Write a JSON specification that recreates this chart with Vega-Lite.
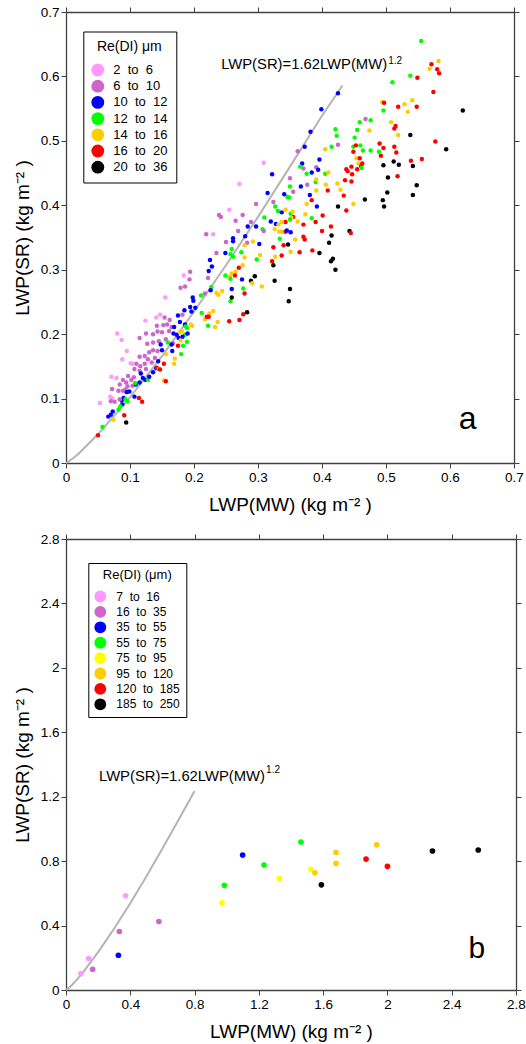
{
"$schema":"https://vega.github.io/schema/vega-lite/v6.json",
"background":"white",
"padding":{"left":13,"top":5,"right":5,"bottom":5},
"config":{"font":"Liberation Sans","view":{"stroke":null},
 "axis":{"grid":false,"domainColor":"#404040","domainWidth":1.3,"tickColor":"#404040","tickSize":5,"tickWidth":1,"labelFontSize":13.5,"labelColor":"black","labelPadding":2,"labelFlush":false,"labelOverlap":false,"titleFontSize":19,"titleFontWeight":"normal","titleColor":"black"}},
"spacing":17,
"datasets":{
"ptsA":[
{"x":0.155,"y":0.257,"re":"2 to 6"},{"x":0.198,"y":0.257,"re":"10 to 12"},{"x":0.199,"y":0.252,"re":"10 to 12"},{"x":0.211,"y":0.260,"re":"12 to 14"},{"x":0.217,"y":0.263,"re":"6 to 10"},{"x":0.238,"y":0.261,"re":"14 to 16"},{"x":0.235,"y":0.264,"re":"14 to 16"},{"x":0.185,"y":0.237,"re":"10 to 12"},{"x":0.194,"y":0.242,"re":"10 to 12"},{"x":0.202,"y":0.241,"re":"10 to 12"},{"x":0.196,"y":0.235,"re":"10 to 12"},{"x":0.230,"y":0.236,"re":"14 to 16"},{"x":0.141,"y":0.226,"re":"2 to 6"},{"x":0.147,"y":0.230,"re":"2 to 6"},{"x":0.154,"y":0.226,"re":"6 to 10"},{"x":0.162,"y":0.222,"re":"6 to 10"},{"x":0.175,"y":0.229,"re":"10 to 12"},{"x":0.182,"y":0.230,"re":"6 to 10"},{"x":0.212,"y":0.233,"re":"12 to 14"},{"x":0.224,"y":0.232,"re":"14 to 16"},{"x":0.217,"y":0.223,"re":"14 to 16"},{"x":0.220,"y":0.227,"re":"16 to 20"},{"x":0.223,"y":0.227,"re":"16 to 20"},{"x":0.222,"y":0.213,"re":"12 to 14"},{"x":0.233,"y":0.211,"re":"14 to 16"},{"x":0.237,"y":0.219,"re":"14 to 16"},{"x":0.124,"y":0.221,"re":"2 to 6"},{"x":0.142,"y":0.213,"re":"6 to 10"},{"x":0.152,"y":0.214,"re":"6 to 10"},{"x":0.158,"y":0.215,"re":"6 to 10"},{"x":0.165,"y":0.211,"re":"6 to 10"},{"x":0.178,"y":0.219,"re":"10 to 12"},{"x":0.186,"y":0.215,"re":"10 to 12"},{"x":0.187,"y":0.212,"re":"12 to 14"},{"x":0.195,"y":0.215,"re":"14 to 16"},{"x":0.197,"y":0.213,"re":"14 to 16"},{"x":0.189,"y":0.210,"re":"12 to 14"},{"x":0.169,"y":0.211,"re":"10 to 12"},
{"x":0.080,"y":0.201,"re":"2 to 6"},{"x":0.087,"y":0.191,"re":"2 to 6"},{"x":0.115,"y":0.194,"re":"6 to 10"},{"x":0.125,"y":0.201,"re":"6 to 10"},{"x":0.136,"y":0.200,"re":"6 to 10"},{"x":0.143,"y":0.204,"re":"6 to 10"},{"x":0.150,"y":0.203,"re":"6 to 10"},{"x":0.161,"y":0.205,"re":"6 to 10"},{"x":0.168,"y":0.201,"re":"10 to 12"},{"x":0.173,"y":0.199,"re":"10 to 12"},{"x":0.178,"y":0.203,"re":"14 to 16"},{"x":0.181,"y":0.205,"re":"14 to 16"},{"x":0.186,"y":0.199,"re":"12 to 14"},{"x":0.182,"y":0.196,"re":"10 to 12"},{"x":0.190,"y":0.201,"re":"10 to 12"},{"x":0.176,"y":0.194,"re":"10 to 12"},{"x":0.127,"y":0.185,"re":"6 to 10"},{"x":0.136,"y":0.187,"re":"6 to 10"},{"x":0.145,"y":0.189,"re":"6 to 10"},{"x":0.156,"y":0.192,"re":"6 to 10"},{"x":0.167,"y":0.186,"re":"6 to 10"},{"x":0.159,"y":0.187,"re":"12 to 14"},{"x":0.165,"y":0.184,"re":"10 to 12"},{"x":0.175,"y":0.182,"re":"16 to 20"},{"x":0.183,"y":0.182,"re":"12 to 14"},{"x":0.189,"y":0.188,"re":"12 to 14"},{"x":0.179,"y":0.190,"re":"14 to 16"},
{"x":0.095,"y":0.174,"re":"2 to 6"},{"x":0.136,"y":0.175,"re":"6 to 10"},{"x":0.143,"y":0.174,"re":"6 to 10"},{"x":0.130,"y":0.172,"re":"6 to 10"},{"x":0.115,"y":0.165,"re":"6 to 10"},{"x":0.123,"y":0.166,"re":"6 to 10"},{"x":0.128,"y":0.161,"re":"6 to 10"},{"x":0.148,"y":0.184,"re":"10 to 12"},{"x":0.150,"y":0.175,"re":"10 to 12"},{"x":0.166,"y":0.174,"re":"10 to 12"},{"x":0.156,"y":0.169,"re":"14 to 16"},{"x":0.180,"y":0.169,"re":"12 to 14"},{"x":0.170,"y":0.162,"re":"14 to 16"},{"x":0.088,"y":0.161,"re":"2 to 6"},{"x":0.101,"y":0.155,"re":"2 to 6"},{"x":0.104,"y":0.154,"re":"2 to 6"},{"x":0.110,"y":0.154,"re":"6 to 10"},{"x":0.116,"y":0.150,"re":"6 to 10"},{"x":0.123,"y":0.154,"re":"6 to 10"},{"x":0.134,"y":0.156,"re":"6 to 10"},{"x":0.144,"y":0.158,"re":"10 to 12"},{"x":0.153,"y":0.154,"re":"16 to 20"},{"x":0.169,"y":0.154,"re":"14 to 16"},{"x":0.139,"y":0.163,"re":"6 to 10"},{"x":0.107,"y":0.146,"re":"6 to 10"},{"x":0.115,"y":0.143,"re":"6 to 10"},{"x":0.125,"y":0.146,"re":"6 to 10"},{"x":0.136,"y":0.141,"re":"10 to 12"},{"x":0.141,"y":0.147,"re":"10 to 12"},{"x":0.142,"y":0.148,"re":"16 to 20"},{"x":0.145,"y":0.146,"re":"12 to 14"},{"x":0.147,"y":0.145,"re":"16 to 20"},{"x":0.117,"y":0.139,"re":"10 to 12"},
{"x":0.071,"y":0.134,"re":"2 to 6"},{"x":0.079,"y":0.132,"re":"2 to 6"},{"x":0.097,"y":0.135,"re":"6 to 10"},{"x":0.106,"y":0.133,"re":"6 to 10"},{"x":0.089,"y":0.129,"re":"6 to 10"},{"x":0.094,"y":0.125,"re":"6 to 10"},{"x":0.102,"y":0.129,"re":"6 to 10"},{"x":0.124,"y":0.129,"re":"10 to 12"},{"x":0.128,"y":0.129,"re":"12 to 14"},{"x":0.120,"y":0.132,"re":"10 to 12"},{"x":0.130,"y":0.134,"re":"10 to 12"},{"x":0.153,"y":0.128,"re":"14 to 16"},{"x":0.156,"y":0.127,"re":"16 to 20"},{"x":0.084,"y":0.122,"re":"6 to 10"},{"x":0.096,"y":0.119,"re":"6 to 10"},{"x":0.104,"y":0.120,"re":"6 to 10"},{"x":0.109,"y":0.122,"re":"10 to 12"},{"x":0.108,"y":0.124,"re":"12 to 14"},{"x":0.115,"y":0.125,"re":"10 to 12"},{"x":0.082,"y":0.112,"re":"6 to 10"},{"x":0.089,"y":0.112,"re":"6 to 10"},{"x":0.093,"y":0.114,"re":"6 to 10"},{"x":0.095,"y":0.110,"re":"10 to 12"},{"x":0.099,"y":0.111,"re":"10 to 12"},{"x":0.072,"y":0.115,"re":"6 to 10"},{"x":0.053,"y":0.093,"re":"2 to 6"},{"x":0.069,"y":0.103,"re":"2 to 6"},{"x":0.072,"y":0.100,"re":"2 to 6"},{"x":0.070,"y":0.096,"re":"6 to 10"},{"x":0.076,"y":0.095,"re":"6 to 10"},{"x":0.087,"y":0.097,"re":"10 to 12"},{"x":0.090,"y":0.101,"re":"10 to 12"},{"x":0.093,"y":0.099,"re":"12 to 14"},{"x":0.096,"y":0.096,"re":"12 to 14"},{"x":0.084,"y":0.099,"re":"6 to 10"},{"x":0.088,"y":0.091,"re":"10 to 12"},{"x":0.114,"y":0.101,"re":"16 to 20"},{"x":0.119,"y":0.095,"re":"16 to 20"},{"x":0.107,"y":0.103,"re":"10 to 12"},{"x":0.073,"y":0.080,"re":"10 to 12"},{"x":0.082,"y":0.083,"re":"12 to 14"},{"x":0.085,"y":0.088,"re":"12 to 14"},{"x":0.070,"y":0.075,"re":"10 to 12"},{"x":0.066,"y":0.072,"re":"10 to 12"},{"x":0.074,"y":0.067,"re":"14 to 16"},{"x":0.091,"y":0.074,"re":"16 to 20"},{"x":0.094,"y":0.063,"re":"20 to 36"},{"x":0.057,"y":0.056,"re":"12 to 14"},{"x":0.050,"y":0.043,"re":"16 to 20"},
{"x":0.257,"y":0.251,"re":"12 to 14"},{"x":0.255,"y":0.220,"re":"16 to 20"},{"x":0.271,"y":0.222,"re":"16 to 20"},{"x":0.277,"y":0.231,"re":"16 to 20"},{"x":0.283,"y":0.234,"re":"20 to 36"},{"x":0.279,"y":0.263,"re":"16 to 20"},{"x":0.259,"y":0.257,"re":"20 to 36"},
{"x":0.271,"y":0.433,"re":"2 to 6"},{"x":0.297,"y":0.402,"re":"6 to 10"},{"x":0.255,"y":0.393,"re":"2 to 6"},{"x":0.239,"y":0.385,"re":"6 to 10"},{"x":0.242,"y":0.382,"re":"6 to 10"},{"x":0.276,"y":0.385,"re":"6 to 10"},{"x":0.265,"y":0.376,"re":"6 to 10"},{"x":0.289,"y":0.374,"re":"6 to 10"},{"x":0.284,"y":0.367,"re":"10 to 12"},{"x":0.297,"y":0.367,"re":"10 to 12"},{"x":0.269,"y":0.360,"re":"6 to 10"},{"x":0.219,"y":0.355,"re":"6 to 10"},{"x":0.230,"y":0.355,"re":"2 to 6"},{"x":0.280,"y":0.352,"re":"10 to 12"},{"x":0.261,"y":0.349,"re":"10 to 12"},{"x":0.261,"y":0.344,"re":"10 to 12"},{"x":0.250,"y":0.343,"re":"6 to 10"},{"x":0.283,"y":0.342,"re":"6 to 10"},{"x":0.292,"y":0.344,"re":"14 to 16"},{"x":0.302,"y":0.340,"re":"10 to 12"},{"x":0.279,"y":0.338,"re":"14 to 16"},{"x":0.259,"y":0.332,"re":"12 to 14"},{"x":0.235,"y":0.326,"re":"6 to 10"},{"x":0.249,"y":0.326,"re":"10 to 12"},{"x":0.257,"y":0.324,"re":"12 to 14"},{"x":0.261,"y":0.320,"re":"12 to 14"},{"x":0.274,"y":0.327,"re":"12 to 14"},{"x":0.279,"y":0.319,"re":"14 to 16"},{"x":0.303,"y":0.323,"re":"14 to 16"},{"x":0.298,"y":0.316,"re":"12 to 14"},{"x":0.225,"y":0.315,"re":"10 to 12"},{"x":0.228,"y":0.305,"re":"10 to 12"},{"x":0.223,"y":0.298,"re":"10 to 12"},{"x":0.194,"y":0.297,"re":"6 to 10"},{"x":0.193,"y":0.285,"re":"6 to 10"},{"x":0.222,"y":0.287,"re":"6 to 10"},{"x":0.184,"y":0.291,"re":"2 to 6"},{"x":0.276,"y":0.307,"re":"14 to 16"},{"x":0.270,"y":0.303,"re":"16 to 20"},{"x":0.265,"y":0.297,"re":"14 to 16"},{"x":0.259,"y":0.294,"re":"14 to 16"},{"x":0.256,"y":0.289,"re":"14 to 16"},{"x":0.249,"y":0.291,"re":"12 to 14"},{"x":0.264,"y":0.291,"re":"16 to 20"},{"x":0.257,"y":0.286,"re":"12 to 14"},{"x":0.275,"y":0.285,"re":"10 to 12"},{"x":0.295,"y":0.290,"re":"20 to 36"},{"x":0.289,"y":0.283,"re":"20 to 36"},{"x":0.291,"y":0.279,"re":"14 to 16"},{"x":0.179,"y":0.272,"re":"6 to 10"},{"x":0.186,"y":0.274,"re":"6 to 10"},{"x":0.227,"y":0.273,"re":"12 to 14"},{"x":0.226,"y":0.268,"re":"10 to 12"},{"x":0.244,"y":0.267,"re":"14 to 16"},{"x":0.259,"y":0.270,"re":"10 to 12"},{"x":0.277,"y":0.271,"re":"12 to 14"},
{"x":0.382,"y":0.514,"re":"10 to 12"},{"x":0.421,"y":0.518,"re":"12 to 14"},{"x":0.423,"y":0.508,"re":"12 to 14"},{"x":0.474,"y":0.516,"re":"14 to 16"},{"x":0.455,"y":0.517,"re":"12 to 14"},{"x":0.513,"y":0.519,"re":"16 to 20"},{"x":0.515,"y":0.523,"re":"16 to 20"},{"x":0.519,"y":0.509,"re":"14 to 16"},{"x":0.538,"y":0.509,"re":"20 to 36"},{"x":0.577,"y":0.499,"re":"16 to 20"},{"x":0.451,"y":0.505,"re":"12 to 14"},{"x":0.373,"y":0.491,"re":"10 to 12"},{"x":0.362,"y":0.484,"re":"6 to 10"},{"x":0.425,"y":0.494,"re":"6 to 10"},{"x":0.415,"y":0.491,"re":"12 to 14"},{"x":0.405,"y":0.487,"re":"14 to 16"},{"x":0.449,"y":0.491,"re":"12 to 14"},{"x":0.453,"y":0.493,"re":"16 to 20"},{"x":0.460,"y":0.493,"re":"12 to 14"},{"x":0.464,"y":0.485,"re":"12 to 14"},{"x":0.476,"y":0.485,"re":"12 to 14"},{"x":0.449,"y":0.483,"re":"16 to 20"},{"x":0.490,"y":0.496,"re":"16 to 20"},{"x":0.496,"y":0.489,"re":"16 to 20"},{"x":0.489,"y":0.483,"re":"12 to 14"},{"x":0.492,"y":0.477,"re":"16 to 20"},{"x":0.513,"y":0.491,"re":"16 to 20"},{"x":0.516,"y":0.482,"re":"16 to 20"},
{"x":0.309,"y":0.466,"re":"2 to 6"},{"x":0.396,"y":0.471,"re":"10 to 12"},{"x":0.369,"y":0.465,"re":"10 to 12"},{"x":0.371,"y":0.457,"re":"6 to 10"},{"x":0.366,"y":0.460,"re":"12 to 14"},{"x":0.391,"y":0.459,"re":"6 to 10"},{"x":0.394,"y":0.455,"re":"10 to 12"},{"x":0.384,"y":0.451,"re":"10 to 12"},{"x":0.376,"y":0.449,"re":"12 to 14"},{"x":0.405,"y":0.449,"re":"12 to 14"},{"x":0.410,"y":0.451,"re":"14 to 16"},{"x":0.322,"y":0.448,"re":"10 to 12"},{"x":0.454,"y":0.473,"re":"14 to 16"},{"x":0.459,"y":0.473,"re":"16 to 20"},{"x":0.457,"y":0.465,"re":"14 to 16"},{"x":0.463,"y":0.465,"re":"16 to 20"},{"x":0.461,"y":0.461,"re":"16 to 20"},{"x":0.462,"y":0.458,"re":"12 to 14"},{"x":0.438,"y":0.456,"re":"16 to 20"},{"x":0.440,"y":0.453,"re":"16 to 20"},{"x":0.446,"y":0.460,"re":"16 to 20"},{"x":0.455,"y":0.456,"re":"16 to 20"},{"x":0.447,"y":0.448,"re":"16 to 20"},{"x":0.496,"y":0.462,"re":"20 to 36"},{"x":0.512,"y":0.468,"re":"20 to 36"},{"x":0.520,"y":0.463,"re":"20 to 36"},{"x":0.542,"y":0.461,"re":"20 to 36"},{"x":0.539,"y":0.469,"re":"16 to 20"},{"x":0.556,"y":0.472,"re":"16 to 20"},{"x":0.518,"y":0.445,"re":"16 to 20"},{"x":0.503,"y":0.443,"re":"20 to 36"},
{"x":0.350,"y":0.442,"re":"6 to 10"},{"x":0.390,"y":0.436,"re":"12 to 14"},{"x":0.377,"y":0.432,"re":"6 to 10"},{"x":0.367,"y":0.429,"re":"10 to 12"},{"x":0.391,"y":0.440,"re":"14 to 16"},{"x":0.436,"y":0.439,"re":"16 to 20"},{"x":0.446,"y":0.437,"re":"16 to 20"},{"x":0.424,"y":0.434,"re":"14 to 16"},{"x":0.406,"y":0.432,"re":"14 to 16"},{"x":0.548,"y":0.431,"re":"20 to 36"},{"x":0.350,"y":0.429,"re":"12 to 14"},{"x":0.315,"y":0.419,"re":"10 to 12"},{"x":0.355,"y":0.421,"re":"6 to 10"},{"x":0.409,"y":0.423,"re":"16 to 20"},{"x":0.391,"y":0.423,"re":"14 to 16"},{"x":0.429,"y":0.424,"re":"14 to 16"},{"x":0.502,"y":0.420,"re":"20 to 36"},{"x":0.341,"y":0.417,"re":"10 to 12"},{"x":0.346,"y":0.413,"re":"12 to 14"},{"x":0.349,"y":0.412,"re":"12 to 14"},{"x":0.381,"y":0.416,"re":"10 to 12"},{"x":0.434,"y":0.415,"re":"16 to 20"},{"x":0.542,"y":0.416,"re":"20 to 36"},{"x":0.467,"y":0.409,"re":"20 to 36"},{"x":0.495,"y":0.408,"re":"20 to 36"},{"x":0.497,"y":0.398,"re":"20 to 36"},{"x":0.324,"y":0.405,"re":"6 to 10"},{"x":0.327,"y":0.398,"re":"12 to 14"},{"x":0.384,"y":0.408,"re":"16 to 20"},{"x":0.376,"y":0.402,"re":"14 to 16"},{"x":0.392,"y":0.398,"re":"10 to 12"},{"x":0.425,"y":0.398,"re":"20 to 36"},{"x":0.449,"y":0.402,"re":"14 to 16"},{"x":0.438,"y":0.392,"re":"16 to 20"},
{"x":0.331,"y":0.391,"re":"12 to 14"},{"x":0.337,"y":0.389,"re":"10 to 12"},{"x":0.343,"y":0.393,"re":"14 to 16"},{"x":0.351,"y":0.387,"re":"12 to 14"},{"x":0.354,"y":0.390,"re":"14 to 16"},{"x":0.355,"y":0.382,"re":"16 to 20"},{"x":0.352,"y":0.381,"re":"14 to 16"},{"x":0.350,"y":0.378,"re":"12 to 14"},{"x":0.374,"y":0.386,"re":"14 to 16"},{"x":0.401,"y":0.384,"re":"16 to 20"},{"x":0.310,"y":0.381,"re":"12 to 14"},{"x":0.320,"y":0.375,"re":"10 to 12"},{"x":0.328,"y":0.371,"re":"10 to 12"},{"x":0.343,"y":0.374,"re":"16 to 20"},{"x":0.337,"y":0.374,"re":"14 to 16"},{"x":0.362,"y":0.375,"re":"14 to 16"},{"x":0.384,"y":0.380,"re":"12 to 14"},{"x":0.390,"y":0.374,"re":"16 to 20"},{"x":0.332,"y":0.370,"re":"14 to 16"},{"x":0.371,"y":0.370,"re":"16 to 20"},{"x":0.414,"y":0.367,"re":"16 to 20"},{"x":0.326,"y":0.363,"re":"14 to 16"},{"x":0.333,"y":0.359,"re":"14 to 16"},{"x":0.337,"y":0.359,"re":"14 to 16"},{"x":0.343,"y":0.359,"re":"16 to 20"},{"x":0.345,"y":0.361,"re":"10 to 12"},{"x":0.351,"y":0.358,"re":"10 to 12"},{"x":0.307,"y":0.363,"re":"12 to 14"},{"x":0.309,"y":0.360,"re":"6 to 10"},{"x":0.400,"y":0.360,"re":"16 to 20"},{"x":0.443,"y":0.360,"re":"20 to 36"},{"x":0.445,"y":0.357,"re":"16 to 20"},{"x":0.415,"y":0.353,"re":"20 to 36"},{"x":0.358,"y":0.347,"re":"14 to 16"},{"x":0.371,"y":0.351,"re":"16 to 20"},{"x":0.373,"y":0.347,"re":"16 to 20"},{"x":0.334,"y":0.348,"re":"12 to 14"},{"x":0.411,"y":0.342,"re":"20 to 36"},{"x":0.324,"y":0.335,"re":"16 to 20"},{"x":0.340,"y":0.338,"re":"16 to 20"},{"x":0.347,"y":0.339,"re":"20 to 36"},{"x":0.351,"y":0.328,"re":"14 to 16"},{"x":0.365,"y":0.327,"re":"16 to 20"},{"x":0.385,"y":0.330,"re":"16 to 20"},{"x":0.396,"y":0.326,"re":"20 to 36"},{"x":0.327,"y":0.320,"re":"14 to 16"},{"x":0.337,"y":0.322,"re":"16 to 20"},{"x":0.322,"y":0.313,"re":"16 to 20"},{"x":0.324,"y":0.307,"re":"20 to 36"},{"x":0.417,"y":0.317,"re":"20 to 36"},{"x":0.414,"y":0.313,"re":"20 to 36"},{"x":0.421,"y":0.300,"re":"20 to 36"},{"x":0.326,"y":0.283,"re":"20 to 36"},{"x":0.350,"y":0.270,"re":"20 to 36"},{"x":0.348,"y":0.251,"re":"20 to 36"},{"x":0.306,"y":0.274,"re":"14 to 16"},
{"x":0.555,"y":0.655,"re":"12 to 14"},{"x":0.582,"y":0.624,"re":"14 to 16"},{"x":0.571,"y":0.619,"re":"16 to 20"},{"x":0.568,"y":0.612,"re":"14 to 16"},{"x":0.580,"y":0.611,"re":"16 to 20"},{"x":0.583,"y":0.605,"re":"16 to 20"},{"x":0.538,"y":0.601,"re":"12 to 14"},{"x":0.549,"y":0.598,"re":"16 to 20"},{"x":0.510,"y":0.591,"re":"12 to 14"},{"x":0.425,"y":0.574,"re":"10 to 12"},{"x":0.574,"y":0.576,"re":"16 to 20"},{"x":0.494,"y":0.560,"re":"14 to 16"},{"x":0.497,"y":0.559,"re":"16 to 20"},{"x":0.529,"y":0.557,"re":"14 to 16"},{"x":0.541,"y":0.563,"re":"14 to 16"},{"x":0.496,"y":0.547,"re":"12 to 14"},{"x":0.519,"y":0.553,"re":"16 to 20"},{"x":0.548,"y":0.553,"re":"16 to 20"},{"x":0.534,"y":0.545,"re":"14 to 16"},{"x":0.620,"y":0.547,"re":"20 to 36"},{"x":0.399,"y":0.549,"re":"10 to 12"},{"x":0.508,"y":0.529,"re":"14 to 16"},{"x":0.594,"y":0.487,"re":"20 to 36"},{"x":0.468,"y":0.534,"re":"6 to 10"},{"x":0.476,"y":0.532,"re":"12 to 14"},{"x":0.459,"y":0.529,"re":"12 to 14"}
],
"ptsB":[
{"x":0.093,"y":0.102,"re":"7 to 16"},{"x":0.141,"y":0.195,"re":"7 to 16"},{"x":0.166,"y":0.129,"re":"16 to 35"},{"x":0.326,"y":0.216,"re":"35 to 55"},{"x":0.332,"y":0.363,"re":"16 to 35"},{"x":0.371,"y":0.585,"re":"7 to 16"},{"x":0.578,"y":0.425,"re":"16 to 35"},{"x":0.971,"y":0.541,"re":"75 to 95"},{"x":0.985,"y":0.650,"re":"55 to 75"},{"x":1.099,"y":0.838,"re":"35 to 55"},{"x":1.232,"y":0.776,"re":"55 to 75"},{"x":1.327,"y":0.693,"re":"75 to 95"},{"x":1.462,"y":0.919,"re":"55 to 75"},{"x":1.524,"y":0.749,"re":"75 to 95"},{"x":1.549,"y":0.728,"re":"95 to 120"},{"x":1.589,"y":0.653,"re":"185 to 250"},{"x":1.680,"y":0.855,"re":"95 to 120"},{"x":1.680,"y":0.786,"re":"95 to 120"},{"x":1.867,"y":0.813,"re":"120 to 185"},{"x":1.933,"y":0.902,"re":"95 to 120"},{"x":2.000,"y":0.768,"re":"120 to 185"},{"x":2.280,"y":0.863,"re":"185 to 250"},{"x":2.565,"y":0.869,"re":"185 to 250"}
],
"curveA":[{"x":0,"y":0},{"x":0.01,"y":0.0065},{"x":0.02,"y":0.0148},{"x":0.05,"y":0.0445},{"x":0.1,"y":0.102},{"x":0.15,"y":0.166},{"x":0.2,"y":0.235},{"x":0.25,"y":0.307},{"x":0.3,"y":0.382},{"x":0.35,"y":0.46},{"x":0.4,"y":0.539},{"x":0.432,"y":0.586}],
"curveB":[{"x":0,"y":0},{"x":0.02,"y":0.0148},{"x":0.05,"y":0.0445},{"x":0.1,"y":0.102},{"x":0.2,"y":0.235},{"x":0.3,"y":0.382},{"x":0.4,"y":0.539},{"x":0.5,"y":0.705},{"x":0.6,"y":0.878},{"x":0.7,"y":1.056},{"x":0.8,"y":1.235}]
},
"vconcat":[
{"width":448,"height":451,
 "layer":[
  {"data":{"name":"curveA"},"mark":{"type":"line","color":"#b4b4b4","strokeWidth":2},
   "encoding":{"x":{"field":"x","type":"quantitative","scale":{"domain":[0,0.7],"nice":false,"zero":false},"axis":{"orient":"top","labels":false,"title":null,"values":[0,0.1,0.2,0.3,0.4,0.5,0.6,0.7]}},
    "y":{"field":"y","type":"quantitative","scale":{"domain":[0,0.7],"nice":false,"zero":false},"axis":{"orient":"right","labels":false,"title":null,"values":[0,0.1,0.2,0.3,0.4,0.5,0.6,0.7]}}}},
  {"data":{"name":"ptsA"},"mark":{"type":"circle","size":20,"opacity":1},
   "encoding":{"x":{"field":"x","type":"quantitative","axis":{"orient":"bottom","values":[0,0.1,0.2,0.3,0.4,0.5,0.6,0.7],"format":"~g","title":"LWP(MW) (kg m⁻² )","titlePadding":12}},
    "y":{"field":"y","type":"quantitative","axis":{"orient":"left","values":[0,0.1,0.2,0.3,0.4,0.5,0.6,0.7],"format":"~g","title":"LWP(SR) (kg m⁻² )","titlePadding":8}},
    "color":{"field":"re","type":"nominal","scale":{"domain":["2 to 6","6 to 10","10 to 12","12 to 14","14 to 16","16 to 20","20 to 36"],"range":["#ff99ff","#cc66cc","#0000ff","#00ff00","#ffcc00","#ff0000","#000000"]},
     "legend":{"title":"Re(DI) μm","orient":"none","legendX":17.3,"legendY":19.5,"symbolType":"circle","symbolSize":165,"symbolStrokeWidth":0,"symbolOpacity":1,"labelFontSize":13,"labelColor":"black","labelOffset":9,"labelExpr":"replace(datum.label, ' to ', '\u00a0 to \u00a0')","titleFontSize":14,"titleFontWeight":"normal","titleColor":"black","titleAnchor":"middle","titlePadding":10,"strokeColor":"black","fillColor":"white","padding":8,"rowPadding":2.2}}}},
  {"data":{"values":[{"x":0.5017,"y":0.611,"t":"LWP(SR)=1.62LWP(MW)"}]},"mark":{"type":"text","align":"right","baseline":"alphabetic","fontSize":14.8,"color":"black"},
   "encoding":{"x":{"field":"x","type":"quantitative","axis":null},"y":{"field":"y","type":"quantitative","axis":null},"text":{"field":"t"}}},
  {"data":{"values":[{"x":0.5035,"y":0.620,"t":"1.2"}]},"mark":{"type":"text","align":"left","baseline":"alphabetic","fontSize":10,"color":"black"},
   "encoding":{"x":{"field":"x","type":"quantitative","axis":null},"y":{"field":"y","type":"quantitative","axis":null},"text":{"field":"t"}}},
  {"data":{"values":[{"x":0.6275,"y":0.052,"t":"a"}]},"mark":{"type":"text","align":"center","baseline":"alphabetic","fontSize":32,"color":"black"},
   "encoding":{"x":{"field":"x","type":"quantitative","axis":null},"y":{"field":"y","type":"quantitative","axis":null},"text":{"field":"t"}}}
 ],
 "resolve":{"axis":{"x":"independent","y":"independent"}}},
{"width":450,"height":451,
 "layer":[
  {"data":{"name":"curveB"},"mark":{"type":"line","color":"#b4b4b4","strokeWidth":2},
   "encoding":{"x":{"field":"x","type":"quantitative","scale":{"domain":[0,2.8],"nice":false,"zero":false},"axis":{"orient":"top","labels":false,"title":null,"values":[0,0.4,0.8,1.2,1.6,2,2.4,2.8]}},
    "y":{"field":"y","type":"quantitative","scale":{"domain":[0,2.8],"nice":false,"zero":false},"axis":{"orient":"right","labels":false,"title":null,"values":[0,0.4,0.8,1.2,1.6,2,2.4,2.8]}}}},
  {"data":{"name":"ptsB"},"mark":{"type":"circle","size":32,"opacity":1},
   "encoding":{"x":{"field":"x","type":"quantitative","axis":{"orient":"bottom","values":[0,0.4,0.8,1.2,1.6,2,2.4,2.8],"format":"~g","title":"LWP(MW) (kg m⁻² )","titlePadding":12}},
    "y":{"field":"y","type":"quantitative","axis":{"orient":"left","values":[0,0.4,0.8,1.2,1.6,2,2.4,2.8],"format":"~g","title":"LWP(SR) (kg m⁻² )","titlePadding":8}},
    "color":{"field":"re","type":"nominal","scale":{"domain":["7 to 16","16 to 35","35 to 55","55 to 75","75 to 95","95 to 120","120 to 185","185 to 250"],"range":["#ff99ff","#cc66cc","#0000ff","#00ff00","#ffff00","#ffcc00","#ff0000","#000000"]},
     "legend":{"title":"Re(DI) (μm)","orient":"none","legendX":22.3,"legendY":24,"symbolType":"circle","symbolSize":140,"symbolStrokeWidth":0,"symbolOpacity":1,"labelFontSize":12,"labelColor":"black","labelOffset":10,"labelExpr":"replace(datum.label, ' to ', '\u00a0 to \u00a0')","titleFontSize":13,"titleFontWeight":"normal","titleColor":"black","titleAnchor":"middle","titlePadding":8.5,"strokeColor":"black","fillColor":"white","padding":6,"rowPadding":3.4}}}},
  {"data":{"values":[{"x":1.238,"y":1.300,"t":"LWP(SR)=1.62LWP(MW)"}]},"mark":{"type":"text","align":"right","baseline":"alphabetic","fontSize":14.8,"color":"black"},
   "encoding":{"x":{"field":"x","type":"quantitative","axis":null},"y":{"field":"y","type":"quantitative","axis":null},"text":{"field":"t"}}},
  {"data":{"values":[{"x":1.245,"y":1.348,"t":"1.2"}]},"mark":{"type":"text","align":"left","baseline":"alphabetic","fontSize":10,"color":"black"},
   "encoding":{"x":{"field":"x","type":"quantitative","axis":null},"y":{"field":"y","type":"quantitative","axis":null},"text":{"field":"t"}}},
  {"data":{"values":[{"x":2.556,"y":0.2016,"t":"b"}]},"mark":{"type":"text","align":"center","baseline":"alphabetic","fontSize":30,"color":"black"},
   "encoding":{"x":{"field":"x","type":"quantitative","axis":null},"y":{"field":"y","type":"quantitative","axis":null},"text":{"field":"t"}}}
 ],
 "resolve":{"axis":{"x":"independent","y":"independent"}}}
],
"resolve":{"scale":{"color":"independent"},"legend":{"color":"independent"}}
}
